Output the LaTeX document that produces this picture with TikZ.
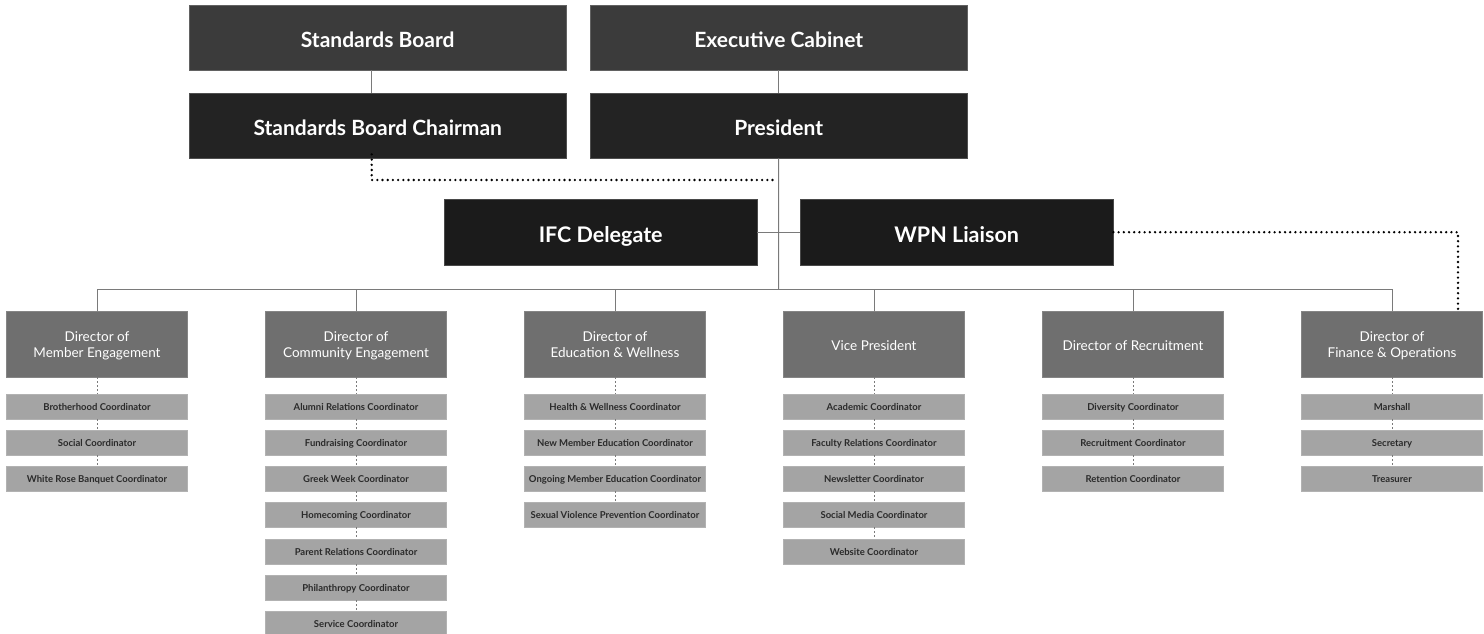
\documentclass[tikz,border=0pt]{standalone}
\usepackage{fontspec}
\setmainfont{Lato}
\definecolor{ctop}{HTML}{3B3B3B}
\definecolor{csec}{HTML}{232323}
\definecolor{cmid}{HTML}{1B1B1B}
\definecolor{cdir}{HTML}{6F6F6F}
\definecolor{ccoord}{HTML}{A4A4A4}
\definecolor{ctext}{HTML}{2A2A2A}
\definecolor{cline}{HTML}{7A7A7A}
\begin{document}
\begin{tikzpicture}[x=1pt,y=-1pt,
  bigbox/.style={anchor=north west,minimum width=377pt,minimum height=65pt,inner sep=0pt,text height=19pt,text depth=0pt,text=white,font=\bfseries\fontsize{21}{25}\selectfont,draw=#1!80!white,fill=#1},
  midbox/.style={anchor=north west,minimum width=313pt,minimum height=66pt,inner sep=0pt,text height=20pt,text depth=0pt,text=white,font=\bfseries\fontsize{21.5}{25}\selectfont,draw=cmid!80!white,fill=cmid},
  dirbox/.style={anchor=north,minimum width=181pt,minimum height=66pt,inner sep=0pt,text height=12pt,text depth=0pt,text=white,align=center,font=\fontsize{13.5}{15.6}\selectfont,fill=cdir,draw=cdir!85!white},
  twoline/.style={text height=26.6pt},
  coord/.style={anchor=north,minimum width=181pt,minimum height=25pt,inner sep=0pt,text height=7pt,text depth=0pt,text=ctext,font=\bfseries\fontsize{9.5}{11}\selectfont,fill=ccoord,draw=ccoord!85!white},
  solidline/.style={draw=cline,line width=1pt},
  dashline/.style={draw=cline,line width=0.8pt,dash pattern=on 2pt off 2pt},
  dotline/.style={draw=black,line width=2.6pt,dash pattern=on 0pt off 5.2pt,line cap=round}
]
\useasboundingbox (0,0) rectangle (1484,634);

% top structure
\node[bigbox=ctop] (sb) at (189,5) {Standards Board};
\node[bigbox=ctop] (ec) at (590,5) {Executive Cabinet};
\node[bigbox=csec] (sbc) at (189,93) {Standards Board Chairman};
\node[bigbox=csec] (pres) at (590,93) {President};
\node[midbox] (ifc) at (444,199) {IFC Delegate};
\node[midbox] (wpn) at (800,199) {WPN Liaison};

\draw[solidline] ([xshift=-6pt]sb.south) -- ([xshift=-6pt]sbc.north);
\draw[solidline] (ec.south) -- (pres.north);

\coordinate (busL) at (97,289);
\coordinate (busR) at (1392,289);
\coordinate (busM) at (778.5,289);
\draw[solidline] (pres.south) -- (busM);
\draw[solidline] (ifc.east) -- (wpn.west);
\draw[solidline] (busL) -- (busR);

% directors
\node[dirbox,twoline] (d1) at (97,311) {Director of\\Member Engagement};
\node[dirbox,twoline] (d2) at (356,311) {Director of\\Community Engagement};
\node[dirbox,twoline] (d3) at (615,311) {Director of\\Education \& Wellness};
\node[dirbox] (d4) at (874,311) {Vice President};
\node[dirbox] (d5) at (1133,311) {Director of Recruitment};
\node[dirbox,twoline] (d6) at (1392,311) {Director of\\Finance \& Operations};
\foreach \d in {d1,d2,d3,d4,d5,d6}{
  \draw[solidline] (\d.north) -- (\d.north |- busL);
}

% dotted links
\coordinate (dotA) at (776,180);
\draw[dotline] ([xshift=-6pt,yshift=4pt]sbc.south) |- (dotA);
\draw[dotline] (wpn.east) -| ([xshift=66pt]d6.north);

% coordinators
\node[coord] (c11) at (97,394) {Brotherhood Coordinator};
\node[coord] (c12) at (97,430) {Social Coordinator};
\node[coord] (c13) at (97,466) {White Rose Banquet Coordinator};

\node[coord] (c21) at (356,394) {Alumni Relations Coordinator};
\node[coord] (c22) at (356,430) {Fundraising Coordinator};
\node[coord] (c23) at (356,466) {Greek Week Coordinator};
\node[coord] (c24) at (356,502) {Homecoming Coordinator};
\node[coord] (c25) at (356,539) {Parent Relations Coordinator};
\node[coord] (c26) at (356,575) {Philanthropy Coordinator};
\node[coord] (c27) at (356,611) {Service Coordinator};

\node[coord] (c31) at (615,394) {Health \& Wellness Coordinator};
\node[coord] (c32) at (615,430) {New Member Education Coordinator};
\node[coord] (c33) at (615,466) {Ongoing Member Education Coordinator};
\node[coord] (c34) at (615,502) {Sexual Violence Prevention Coordinator};

\node[coord] (c41) at (874,394) {Academic Coordinator};
\node[coord] (c42) at (874,430) {Faculty Relations Coordinator};
\node[coord] (c43) at (874,466) {Newsletter Coordinator};
\node[coord] (c44) at (874,502) {Social Media Coordinator};
\node[coord] (c45) at (874,539) {Website Coordinator};

\node[coord] (c51) at (1133,394) {Diversity Coordinator};
\node[coord] (c52) at (1133,430) {Recruitment Coordinator};
\node[coord] (c53) at (1133,466) {Retention Coordinator};

\node[coord] (c61) at (1392,394) {Marshall};
\node[coord] (c62) at (1392,430) {Secretary};
\node[coord] (c63) at (1392,466) {Treasurer};

\foreach \a/\b in {d1/c11,c11/c12,c12/c13,
  d2/c21,c21/c22,c22/c23,c23/c24,c24/c25,c25/c26,c26/c27,
  d3/c31,c31/c32,c32/c33,c33/c34,
  d4/c41,c41/c42,c42/c43,c43/c44,c44/c45,
  d5/c51,c51/c52,c52/c53,
  d6/c61,c61/c62,c62/c63}{
  \draw[dashline] (\a.south) -- (\b.north);
}
\end{tikzpicture}
\end{document}
